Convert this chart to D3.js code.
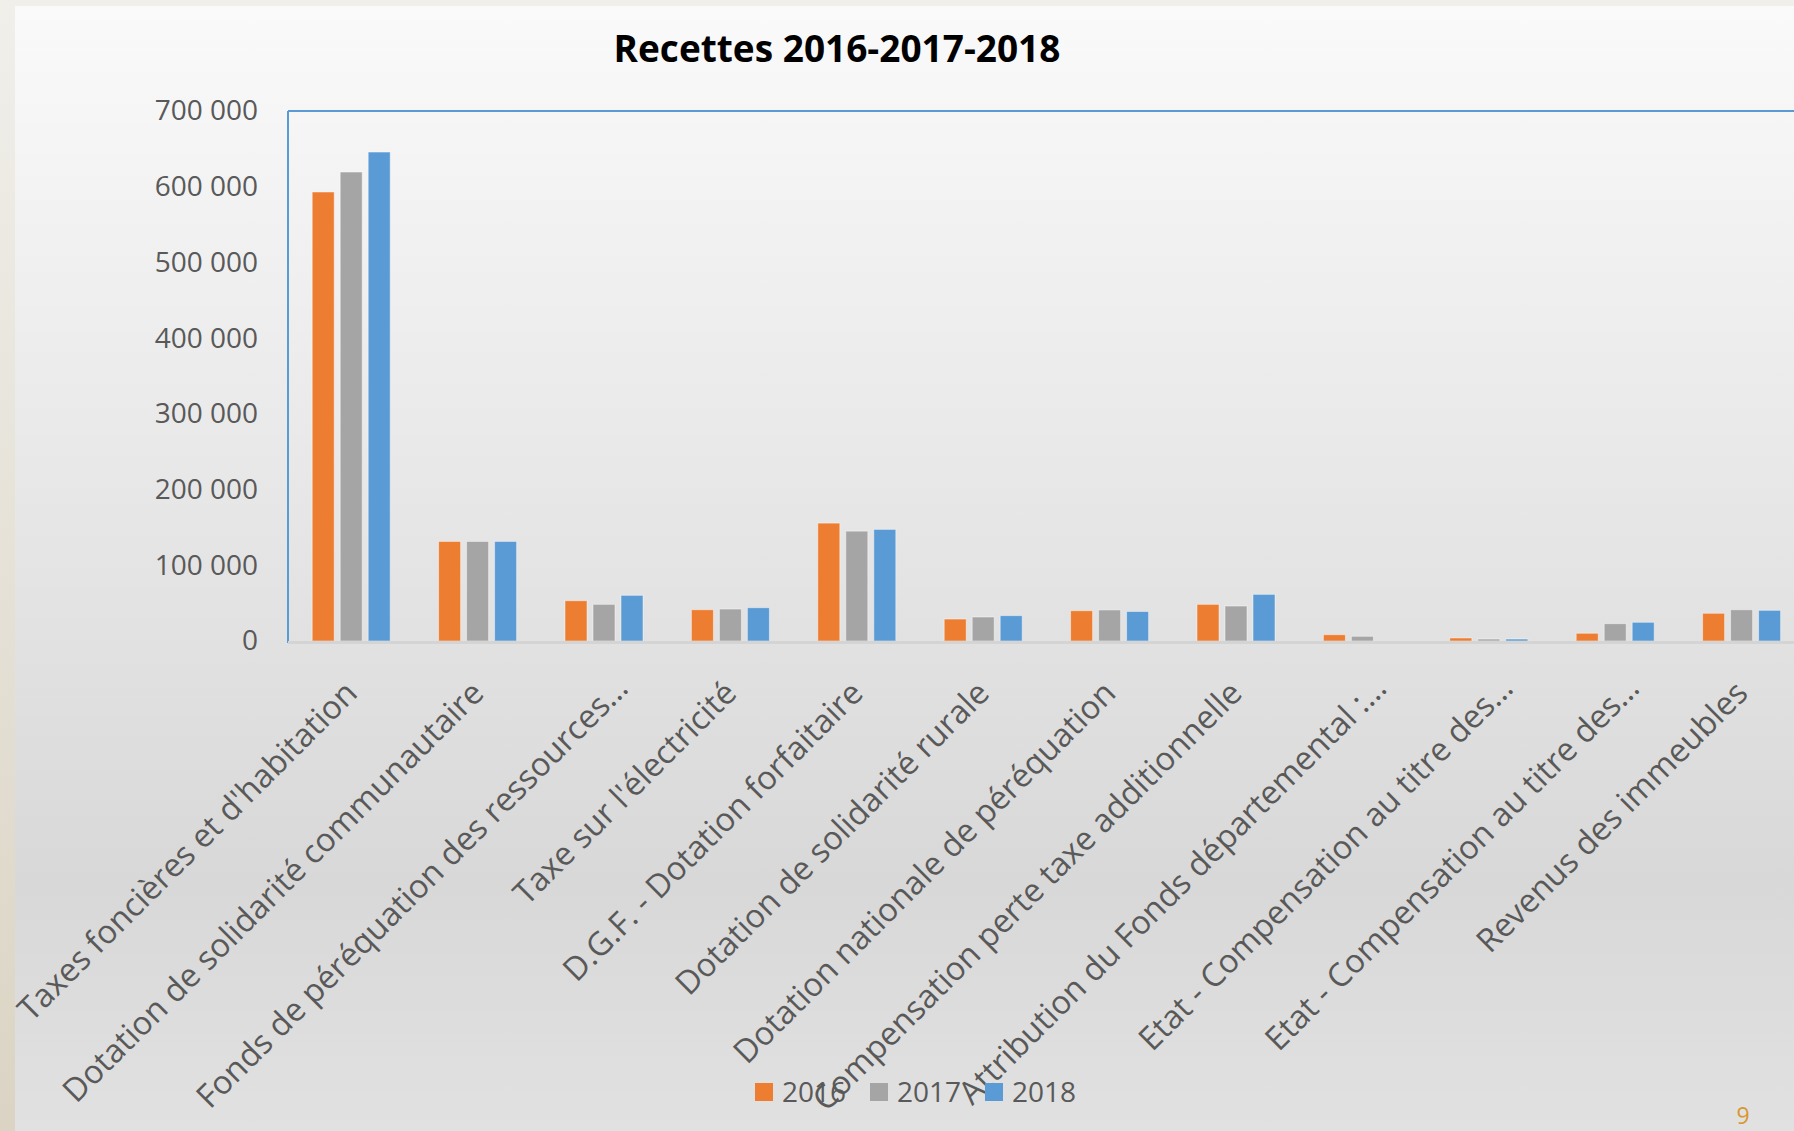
<!DOCTYPE html>
<html>
<head>
<meta charset="utf-8">
<script src="https://cdn.jsdelivr.net/npm/d3@7"></script>
<style>
  body { margin: 0; background: #f0efea; }
  svg { display: block; font-family: "Open Sans", sans-serif; }
</style>
</head>
<body>
<div id="chart"></div>
<script>
// data
const categories = [
    "Taxes foncières et d'habitation",
    "Dotation de solidarité communautaire",
    "Fonds de péréquation des ressources…",
    "Taxe sur l'électricité",
    "D.G.F. - Dotation forfaitaire",
    "Dotation de solidarité rurale",
    "Dotation nationale de péréquation",
    "Compensation perte taxe additionnelle",
    "Attribution du Fonds départemental :…",
    "Etat - Compensation au titre des…",
    "Etat - Compensation au titre des…",
    "Revenus des immeubles"
];
const series = ["2016", "2017", "2018"];
const values2016 = [593000, 131500, 53200, 41300, 155700, 29000, 40000, 48400, 8300, 4000, 10200, 36600];
const values2017 = [619400, 131500, 48400, 42200, 145100, 31700, 41000, 46200, 6200, 2600, 22900, 41300];
const values2018 = [645800, 131500, 60300, 44000, 147400, 33500, 39000, 61600, 0, 2600, 24700, 40500];
const yTicks = [0, 100000, 200000, 300000, 400000, 500000, 600000, 700000];
const colors = ["#ed7d31", "#a5a5a5", "#5b9bd5"];

const W = 1794, H = 1131;
const plot = { left: 288, top: 111, bottom: 641, step: 126.4 };

const svg = d3.select("#chart").append("svg")
    .attr("width", W)
    .attr("height", H);

// background panel with vertical gradient
const defs = svg.append("defs");
const grad = defs.append("linearGradient").attr("id", "bg").attr("x1", 0).attr("y1", 0).attr("x2", 0).attr("y2", 1);
grad.append("stop").attr("offset", "0%").attr("stop-color", "#fafafa");
grad.append("stop").attr("offset", "78%").attr("stop-color", "#d8d8d8");
grad.append("stop").attr("offset", "100%").attr("stop-color", "#e1e1e1");
const side = defs.append("linearGradient").attr("id", "side").attr("x1", 0).attr("y1", 0).attr("x2", 0).attr("y2", 1);
side.append("stop").attr("offset", "0%").attr("stop-color", "#f0efea");
side.append("stop").attr("offset", "100%").attr("stop-color", "#dbd4c4");

svg.append("rect").attr("width", W).attr("height", H).attr("fill", "#f0efea");
svg.append("rect").attr("x", 0).attr("y", 0).attr("width", 15).attr("height", H).attr("fill", "url(#side)");
svg.append("rect").attr("x", 15).attr("y", 6).attr("width", W - 15).attr("height", H - 6).attr("fill", "url(#bg)");

// title
svg.append("text")
    .attr("x", 837).attr("y", 62)
    .attr("text-anchor", "middle")
    .attr("font-size", 37)
    .attr("font-weight", "bold")
    .attr("fill", "#000")
    .text("Recettes 2016-2017-2018");

// scales
const x0 = d3.scaleBand()
    .domain(d3.range(categories.length))
    .range([plot.left, plot.left + plot.step * categories.length])
    .padding(0);

const x1 = d3.scaleBand()
    .domain(series)
    .range([-39, 39])
    .paddingInner(0.214);

const y = d3.scaleLinear()
    .domain([0, 700000])
    .range([plot.bottom, plot.top]);

const fr = d3.formatLocale({ decimal: ",", thousands: " ", grouping: [3], currency: ["", " €"] });
const fmt = fr.format(",");

// plot area border (blue)
svg.append("line")
    .attr("x1", plot.left).attr("x2", W)
    .attr("y1", plot.top).attr("y2", plot.top)
    .attr("stroke", "#5b9bd5").attr("stroke-width", 2);
svg.append("line")
    .attr("x1", plot.left).attr("x2", plot.left)
    .attr("y1", plot.top).attr("y2", plot.bottom + 2)
    .attr("stroke", "#5b9bd5").attr("stroke-width", 2);

// y axis labels
const yAxis = svg.append("g")
    .attr("transform", `translate(${plot.left},0)`)
    .call(d3.axisLeft(y).tickValues(yTicks).tickSize(0).tickPadding(30).tickFormat(fmt));
yAxis.select(".domain").remove();
yAxis.selectAll("text")
    .attr("font-family", "Open Sans")
    .attr("font-size", 28)
    .attr("fill", "#595959");

// bars
const table = categories.map((c, i) => ({
    i: i,
    vals: [values2016[i], values2017[i], values2018[i]]
}));

const groups = svg.append("g").selectAll("g")
    .data(table)
    .enter().append("g")
    .attr("transform", d => `translate(${x0(d.i) + x0.bandwidth() / 2},0)`);

groups.selectAll("rect")
    .data(d => d.vals.map((v, k) => ({ key: series[k], value: v, k: k })))
    .enter().append("rect")
    .attr("x", d => x1(d.key))
    .attr("width", x1.bandwidth())
    .attr("y", d => y(d.value))
    .attr("height", d => y(0) - y(d.value))
    .attr("fill", d => colors[d.k])
    .attr("stroke", "rgba(255,255,255,0.45)")
    .attr("stroke-width", d => d.value > 0 ? 1 : 0);

// category axis
svg.append("line")
    .attr("x1", plot.left).attr("x2", W)
    .attr("y1", plot.bottom + 1.5).attr("y2", plot.bottom + 1.5)
    .attr("stroke", "#d4d4d4").attr("stroke-width", 3);

const xAxis = svg.append("g")
    .attr("transform", `translate(0,${plot.bottom})`)
    .call(d3.axisBottom(x0).tickSize(0).tickFormat(i => categories[i]));
xAxis.select(".domain").remove();
xAxis.selectAll("text")
    .attr("font-family", "Open Sans")
    .attr("font-size", 32.5)
    .attr("fill", "#595959")
    .attr("text-anchor", "end")
    .attr("dy", 0)
    .attr("y", 0)
    // truncated labels sit a little further right in the original
    .attr("transform", i => categories[i].endsWith("…")
        ? "translate(26,49) rotate(-45)"
        : "translate(8,54) rotate(-45)");

// legend
const legend = svg.append("g").selectAll("g")
    .data(series)
    .enter().append("g")
    .attr("transform", (d, i) => `translate(${755 + i * 115},1083)`);
legend.append("rect")
    .attr("width", 18).attr("height", 18)
    .attr("fill", (d, i) => colors[i]);
legend.append("text")
    .attr("x", 27).attr("y", 19)
    .attr("font-size", 28)
    .attr("fill", "#595959")
    .text(d => d);

// page number
svg.append("text")
    .attr("x", 1743).attr("y", 1124)
    .attr("text-anchor", "middle")
    .attr("font-size", 23)
    .attr("fill", "#d8962f")
    .text("9");
</script>
</body>
</html>
